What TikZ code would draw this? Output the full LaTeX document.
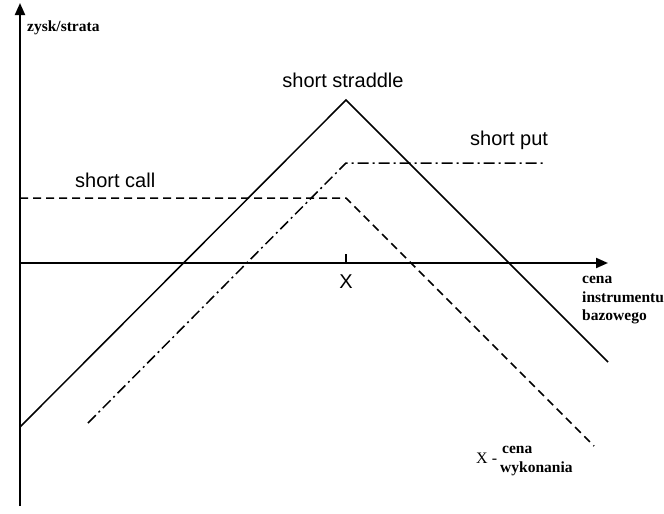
\documentclass[tikz,border=0pt]{standalone}
\usepackage{fontspec}
\setmainfont{Liberation Serif}
\newfontfamily\arialf{Liberation Sans}
\usetikzlibrary{arrows.meta}
\tikzset{
  axisline/.style={line width=2pt,-{Triangle[length=12pt,width=10pt]}},
  payoff/.style={line width=1.5pt},
  callline/.style={payoff,dash pattern=on 8pt off 5pt},
  putline/.style={payoff,dash pattern=on 11pt off 4pt on 2pt off 4pt},
  biglabel/.style={font=\arialf\fontsize{20}{24}\selectfont,inner sep=0pt},
  smalllabel/.style={font=\bfseries\fontsize{15.5}{18.5}\selectfont,inner sep=0pt}
}
\begin{document}
\begin{tikzpicture}[x=1pt,y=-1pt]
\useasboundingbox (0,0) rectangle (664,514);
% axes
\coordinate (o) at (20,263);
\coordinate (ybot) at (20,506);
\coordinate (ytop) at (20,3);
\coordinate (xend) at (608,263);
\draw[axisline] (ybot) -- (ytop);
\draw[axisline] (o) -- (xend);
% tick at X
\coordinate (xt) at (346,263);
\coordinate (xtup) at (346,254);
\draw[line width=2pt] (xt) -- (xtup);
% short straddle
\coordinate (s1) at (20,427);
\coordinate (s2) at (346,100);
\coordinate (s3) at (608,362);
\draw[payoff] (s1) -- (s2) -- (s3);
% short call
\coordinate (c1) at (20,198);
\coordinate (c2) at (346,198);
\coordinate (c3) at (594,446);
\draw[callline] (c1) -- (c2) -- (c3);
% short put
\coordinate (p1) at (88,423);
\coordinate (p2) at (346,163);
\coordinate (p3) at (545,163);
\draw[putline] (p1) -- (p2) -- (p3);
% labels
\node[biglabel,anchor=base] (lstraddle) at (343,87) {short straddle};
\node[biglabel,anchor=base west] (lcall) at (75,187) {short call};
\node[biglabel,anchor=base west] (lput) at (470,145) {short put};
\node[biglabel,anchor=base] (lx) at (346,288) {X};
\node[smalllabel,anchor=base west] (lzysk) at (27,31) {zysk/strata};
\node[smalllabel,anchor=base west] (lcena1) at (582,283) {cena};
\node[smalllabel,anchor=base west] (lcena2) at (582,302) {instrumentu};
\node[smalllabel,anchor=base west] (lcena3) at (582,320) {bazowego};
\node[font=\fontsize{16}{18}\selectfont,inner sep=0pt,anchor=base west] (lxw) at (476,463) {X -};
\node[smalllabel,anchor=base west] (lwyk1) at (502,453) {cena};
\node[smalllabel,anchor=base west] (lwyk2) at (500,472) {wykonania};
\end{tikzpicture}
\end{document}
